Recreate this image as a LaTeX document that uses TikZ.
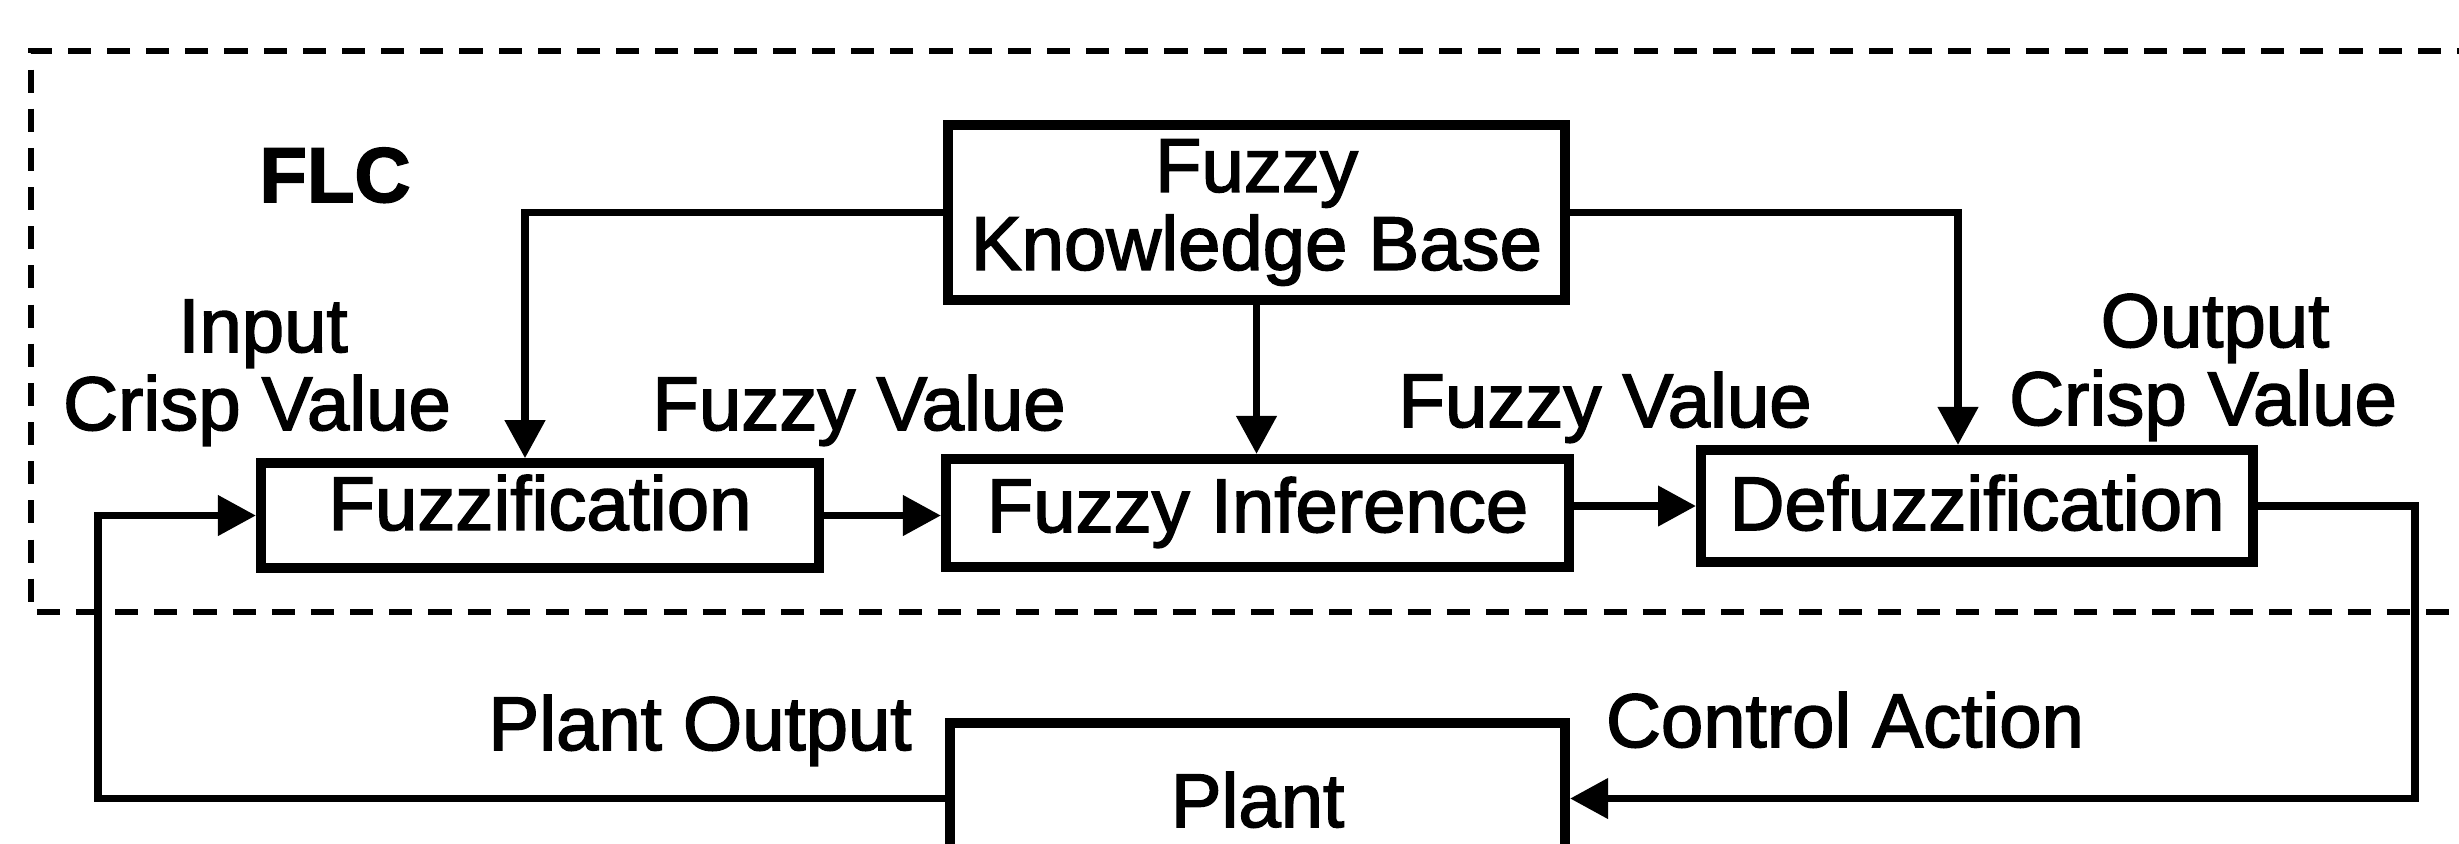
\documentclass[tikz,border=0pt]{standalone}
\usepackage{fontspec}
\setmainfont{Liberation Sans}[FakeBold=2]
\usetikzlibrary{arrows.meta}

\tikzset{
  lbl/.style={font=\fontsize{27.4pt}{28.1pt}\selectfont, inner sep=0pt},
  blk/.style={draw, line width=3.6pt, rectangle, inner sep=0pt, outer sep=1.8pt,
    font=\fontsize{27.4pt}{28.1pt}\selectfont, text height=24pt},
  flow/.style={line width=2.8pt, line join=miter},
  arr/.style={flow, -{Triangle[length=13.7pt,width=14pt]}},
  frame/.style={line width=2.2pt, dash pattern=on 8.3pt off 5.8pt}
}

\begin{document}
\begin{tikzpicture}[x=0.36pt, y=-0.36pt]
  \path[use as bounding box, clip] (0,0) rectangle (2459,843);

  % controller boundary (open to the right)
  \draw[frame] (2480,51) -- (31,51) -- (31,612) -- (2480,612);
  \node[lbl, font=\fontsize{28pt}{30pt}\selectfont\bfseries, anchor=base] (flc) at (335,202) {FLC};

  % blocks
  \node[blk, minimum width=222.1pt, minimum height=63pt, align=center, text height=, text depth=]
    (kb) at (1256.5,212.5) {Fuzzy\\Knowledge Base};
  \node[blk, minimum width=200.9pt, minimum height=37.1pt, text depth=13.6pt]
    (fuzz) at (540,515.5) {Fuzzification};
  \node[blk, minimum width=224.3pt, minimum height=38.9pt, text depth=10.3pt]
    (inf) at (1257.5,513) {Fuzzy Inference};
  \node[blk, minimum width=198.7pt, minimum height=40.3pt, text depth=6.7pt]
    (def) at (1977,506) {Defuzzification};
  \node[blk, minimum width=221.4pt, minimum height=54.4pt, text depth=3.5pt]
    (plant) at (1257.5,798.5) {Plant};

  % signal labels
  \node[lbl, anchor=base] (in1) at (263,352) {Input};
  \node[lbl, anchor=base] (in2) at (257,430) {Crisp Value};
  \node[lbl, anchor=base] (fv1) at (859,430) {Fuzzy Value};
  \node[lbl, anchor=base] (fv2) at (1605,427) {Fuzzy Value};
  \node[lbl, anchor=base] (out1) at (2215,347) {Output};
  \node[lbl, anchor=base] (out2) at (2203,425) {Crisp Value};
  \node[lbl, anchor=base] (po) at (700,750) {Plant Output};
  \node[lbl, anchor=base] (ca) at (1845,747) {Control Action};

  % routing points
  \coordinate (kf) at (525,300);
  \coordinate (kd) at (1958,300);
  \coordinate (fb) at (98,650);
  \coordinate (ret) at (2415,650);

  % knowledge base feeds
  \draw[arr] (kb.west) -- (kb.west -| kf) -- (fuzz.north -| kf);
  \draw[arr] (kb.east) -- (kb.east -| kd) -- (def.north -| kd);
  \draw[arr] (kb.south) -- (kb.south |- inf.north);

  % main chain
  \draw[arr] (fuzz.east) -- (fuzz.east -| inf.west);
  \draw[arr] (inf.east |- def.west) -- (def.west);

  % loop through the plant
  \draw[arr] (def.east) -- (def.east -| ret) -- (plant.east -| ret) -- (plant.east);
  \draw[arr] (plant.west) -- (plant.west -| fb) -- (fuzz.west -| fb) -- (fuzz.west);
\end{tikzpicture}
\end{document}
